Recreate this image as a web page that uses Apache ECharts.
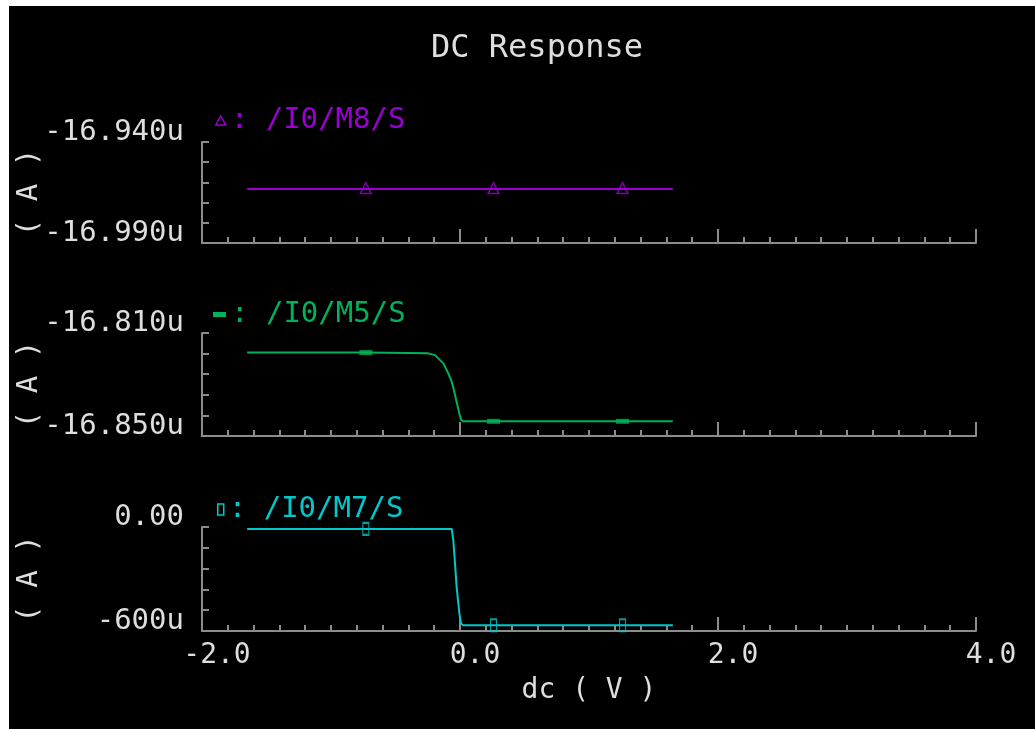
<!DOCTYPE html>
<html>
<head>
<meta charset="utf-8">
<title>DC Response</title>
<script src="https://cdn.jsdelivr.net/npm/echarts@6/dist/echarts.min.js"></script>
<style>
  html, body { margin: 0; padding: 0; background: #ffffff; width: 1035px; height: 729px; overflow: hidden; }
  #chart { position: absolute; left: 9px; top: 6px; width: 1026px; height: 723px; background: #000000; }
</style>
</head>
<body>
<div id="chart"></div>
<script>
// DC sweep (V) and source currents (uA) of the three transistors
const sweepM8 = [-1.65, -0.73, 0.26, 1.26, 1.65];
const currentM8 = [-16.9633, -16.9633, -16.9633, -16.9633, -16.9633];
const markerIdxM8 = [1, 2, 3];

const sweepM5 = [-1.65, -0.73, -0.246, -0.194, -0.129, -0.09, -0.064, -0.047, -0.026, -0.005, 0.008, 0.026, 0.26, 1.26, 1.65];
const currentM5 = [-16.8176, -16.8176, -16.8179, -16.8186, -16.8218, -16.8257, -16.8290, -16.8322, -16.8368, -16.8413, -16.8437, -16.8443, -16.8443, -16.8443, -16.8443];
const markerIdxM5 = [1, 12, 13];

const sweepM7 = [-1.65, -0.73, -0.064, -0.052, -0.039, -0.026, -0.005, 0.008, 0.026, 0.26, 1.26, 1.65];
const currentM7 = [-11, -11, -11, -75, -208, -347, -498, -557, -567, -567, -567, -567];
const markerIdxM7 = [1, 9, 10];

// signal names
const names = ['/I0/M8/S', '/I0/M5/S', '/I0/M7/S'];

// y-axis ranges, tick steps and end labels
const rangeM8 = [-16.990, -16.940];
const stepM8 = 0.01;
const tickTextM8 = ['-16.990u', '-16.940u'];
const rangeM5 = [-16.850, -16.810];
const stepM5 = 0.008;
const tickTextM5 = ['-16.850u', '-16.810u'];
const rangeM7 = [-600, 0];
const stepM7 = 120;
const tickTextM7 = ['-600u', '0.00'];

// x axis
const xRange = [-2, 4];
const xStep = 2;
const xTickText = ['-2.0', '0.0', '2.0', '4.0'];

const title = 'DC Response';
const xName = 'dc ( V )';
const yName = '( A )';

const colors = ['#9a00d2', '#00b259', '#00c8cc'];
const FONT = 'DejaVu Sans Mono';
const TEXT = '#dedede';
const AXIS = '#8c8c8c';

const pairs = (xs, ys) => xs.map((x, i) => [x, ys[i]]);
const pick = (xs, ys, idx) => idx.map(i => [xs[i], ys[i]]);

const gridTops = [136, 327, 521];
const gridHeights = [101, 103, 104];

function xAxisFor(i, showLabels) {
  return {
    type: 'value', gridIndex: i, min: xRange[0], max: xRange[1], interval: xStep,
    axisLine: { show: true, onZero: false, lineStyle: { color: AXIS, width: 2 } },
    axisTick: { show: true, inside: true, length: 14, lineStyle: { color: AXIS, width: 2 } },
    minorTick: { show: true, splitNumber: 10, length: 6, lineStyle: { color: AXIS, width: 2 } },
    splitLine: { show: false },
    axisLabel: showLabels ? {
      show: true, color: TEXT, fontFamily: FONT, fontSize: 28, margin: 11,
      padding: [0, 0, 0, 30],
      formatter: v => xTickText[Math.round((v - xRange[0]) / xStep)]
    } : { show: false },
    name: showLabels ? xName : '',
    nameLocation: 'middle', nameGap: 46, nameMoveOverlap: false,
    nameTextStyle: { color: TEXT, fontFamily: FONT, fontSize: 28 }
  };
}

function yAxisFor(i, range, step, texts) {
  return {
    type: 'value', gridIndex: i, min: range[0], max: range[1], interval: step,
    axisLine: { show: true, onZero: false, lineStyle: { color: AXIS, width: 2 } },
    axisTick: { show: true, inside: true, length: 7, lineStyle: { color: AXIS, width: 2 } },
    splitLine: { show: false },
    axisLabel: {
      show: true, color: TEXT, fontFamily: FONT, fontSize: 29, margin: 18,
      verticalAlign: 'bottom', lineHeight: 20,
      showMinLabel: true, showMaxLabel: true,
      formatter: v => {
        const eps = step * 0.01;
        if (Math.abs(v - range[0]) < eps) return texts[0];
        if (Math.abs(v - range[1]) < eps) return texts[1];
        return '';
      }
    },
    name: yName, nameLocation: 'middle', nameGap: 158, nameRotate: 90, nameMoveOverlap: false,
    nameTextStyle: { color: TEXT, fontFamily: FONT, fontSize: 29 }
  };
}

function legendFor(i, left, top, icon, w, h, itemStyle) {
  return {
    left: left, top: top, padding: 0, orient: 'horizontal', selectedMode: false,
    itemWidth: w, itemHeight: h,
    data: [{ name: names[i], icon: icon, itemStyle: itemStyle }],
    formatter: n => ': ' + n,
    textStyle: { color: colors[i], fontFamily: FONT, fontSize: 29 }
  };
}

const chart = echarts.init(document.getElementById('chart'), null, { renderer: 'canvas' });

chart.setOption({
  backgroundColor: '#000000',
  animation: false,
  title: {
    text: title, left: 523, top: 22, textAlign: 'center',
    textStyle: { color: TEXT, fontFamily: FONT, fontSize: 32, fontWeight: 'normal' }
  },
  legend: [
    legendFor(0, 206, 100, 'triangle', 10, 9, { color: 'transparent', borderColor: colors[0], borderWidth: 1.5 }),
    legendFor(1, 204, 294, 'rect', 13, 5, { color: colors[1] }),
    legendFor(2, 208, 489, 'rect', 6, 11, { color: 'transparent', borderColor: colors[2], borderWidth: 1.5 })
  ],
  grid: gridTops.map((t, i) => ({
    left: 193, width: 774, top: t, height: gridHeights[i],
    containLabel: false, outerBoundsMode: 'none'
  })),
  xAxis: [xAxisFor(0, false), xAxisFor(1, false), xAxisFor(2, true)],
  yAxis: [
    yAxisFor(0, rangeM8, stepM8, tickTextM8),
    yAxisFor(1, rangeM5, stepM5, tickTextM5),
    yAxisFor(2, rangeM7, stepM7, tickTextM7)
  ],
  series: [
    { name: names[0], type: 'line', xAxisIndex: 0, yAxisIndex: 0, data: pairs(sweepM8, currentM8),
      symbol: 'none', lineStyle: { color: colors[0], width: 2 }, itemStyle: { color: colors[0] } },
    { name: names[0] + ' markers', type: 'scatter', xAxisIndex: 0, yAxisIndex: 0, data: pick(sweepM8, currentM8, markerIdxM8),
      symbol: 'triangle', symbolSize: [11, 11], symbolOffset: [0, -1], z: 5,
      itemStyle: { color: 'transparent', borderColor: colors[0], borderWidth: 1.5 } },

    { name: names[1], type: 'line', xAxisIndex: 1, yAxisIndex: 1, data: pairs(sweepM5, currentM5),
      symbol: 'none', lineStyle: { color: colors[1], width: 2 }, itemStyle: { color: colors[1] } },
    { name: names[1] + ' markers', type: 'scatter', xAxisIndex: 1, yAxisIndex: 1, data: pick(sweepM5, currentM5, markerIdxM5),
      symbol: 'rect', symbolSize: [13, 5], z: 5,
      itemStyle: { color: colors[1] } },

    { name: names[2], type: 'line', xAxisIndex: 2, yAxisIndex: 2, data: pairs(sweepM7, currentM7),
      symbol: 'none', lineStyle: { color: colors[2], width: 2 }, itemStyle: { color: colors[2] } },
    { name: names[2] + ' markers', type: 'scatter', xAxisIndex: 2, yAxisIndex: 2, data: pick(sweepM7, currentM7, markerIdxM7),
      symbol: 'rect', symbolSize: [6, 12], z: 5,
      itemStyle: { color: 'transparent', borderColor: colors[2], borderWidth: 1.5 } }
  ]
});
</script>
</body>
</html>
